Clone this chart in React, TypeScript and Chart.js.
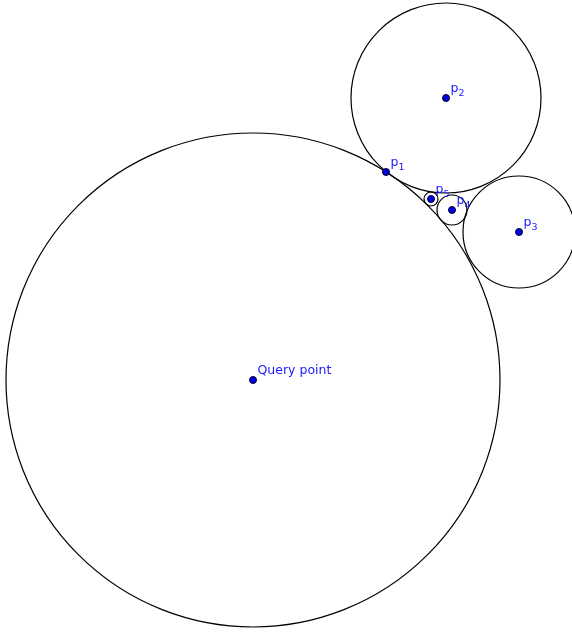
import React, { useEffect, useRef } from "react";
import { Chart, registerables } from "chart.js";

Chart.register(...registerables);

// Points (plane coordinates, y grows downward like the picture)
const pointNames = ["Query point", "p1", "p2", "p3", "p4", "p5"];
const labelBase = ["Query point", "p", "p", "p", "p", "p"];
const labelSub = ["", "1", "2", "3", "4", "5"];
const pointX = [253, 386, 446, 519, 452, 431];
const pointY = [380, 172, 98, 232, 210, 199];
// circle radius around each point (0 = no circle)
const circleRadius = [247, 0, 95, 56, 15, 7];

const W = 572;
const H = 633;

const circlePlugin = {
  id: "circles",
  beforeDatasetsDraw(chart: any) {
    const { ctx, scales } = chart;
    const xs = scales.x;
    const ys = scales.y;
    ctx.save();
    ctx.strokeStyle = "#000000";
    ctx.lineWidth = 1.2;
    pointX.forEach((x, i) => {
      const rad = circleRadius[i];
      if (!rad) return;
      const cx = xs.getPixelForValue(x);
      const cy = ys.getPixelForValue(pointY[i]);
      const r = Math.abs(xs.getPixelForValue(x + rad) - cx);
      ctx.beginPath();
      ctx.arc(cx, cy, r, 0, Math.PI * 2);
      ctx.stroke();
    });
    ctx.restore();
  },
};

const labelPlugin = {
  id: "pointLabels",
  afterDatasetsDraw(chart: any) {
    const { ctx, scales } = chart;
    const xs = scales.x;
    const ys = scales.y;
    ctx.save();
    ctx.fillStyle = "#1a1aff";
    ctx.textBaseline = "alphabetic";
    ctx.textAlign = "left";
    pointNames.forEach((_, i) => {
      const px = xs.getPixelForValue(pointX[i]);
      const py = ys.getPixelForValue(pointY[i]);
      ctx.font = "12.5px 'DejaVu Sans'";
      const bx = px + 4.5;
      const by = py - 6;
      ctx.fillText(labelBase[i], bx, by);
      if (labelSub[i]) {
        const w = ctx.measureText(labelBase[i]).width;
        ctx.font = "9.5px 'DejaVu Sans'";
        ctx.fillText(labelSub[i], bx + w, by + 4);
      }
    });
    ctx.restore();
  },
};

export default function App() {
  const ref = useRef<HTMLCanvasElement | null>(null);
  useEffect(() => {
    document.body.style.margin = "0";
    if (!ref.current) return;
    const pts = pointX.map((x, i) => ({ x, y: pointY[i] }));
    const chart = new Chart(ref.current, {
      type: "scatter",
      data: {
        datasets: [
          {
            label: "points",
            data: pts,
            pointRadius: 3.5,
            pointBackgroundColor: "#0000e6",
            pointBorderColor: "#000022",
            pointBorderWidth: 1,
            clip: false,
          } as any,
        ],
      },
      options: {
        responsive: false,
        animation: false,
        events: [],
        layout: { padding: 0, autoPadding: false },
        plugins: { legend: { display: false }, tooltip: { enabled: false } },
        scales: {
          x: { type: "linear", min: 0, max: W, display: false },
          y: { type: "linear", min: 0, max: H, reverse: true, display: false },
        },
      },
      plugins: [circlePlugin, labelPlugin],
    });
    return () => chart.destroy();
  }, []);
  return (
    <div style={{ width: W, height: H, background: "#fff" }}>
      <canvas ref={ref} width={W} height={H} />
    </div>
  );
}
